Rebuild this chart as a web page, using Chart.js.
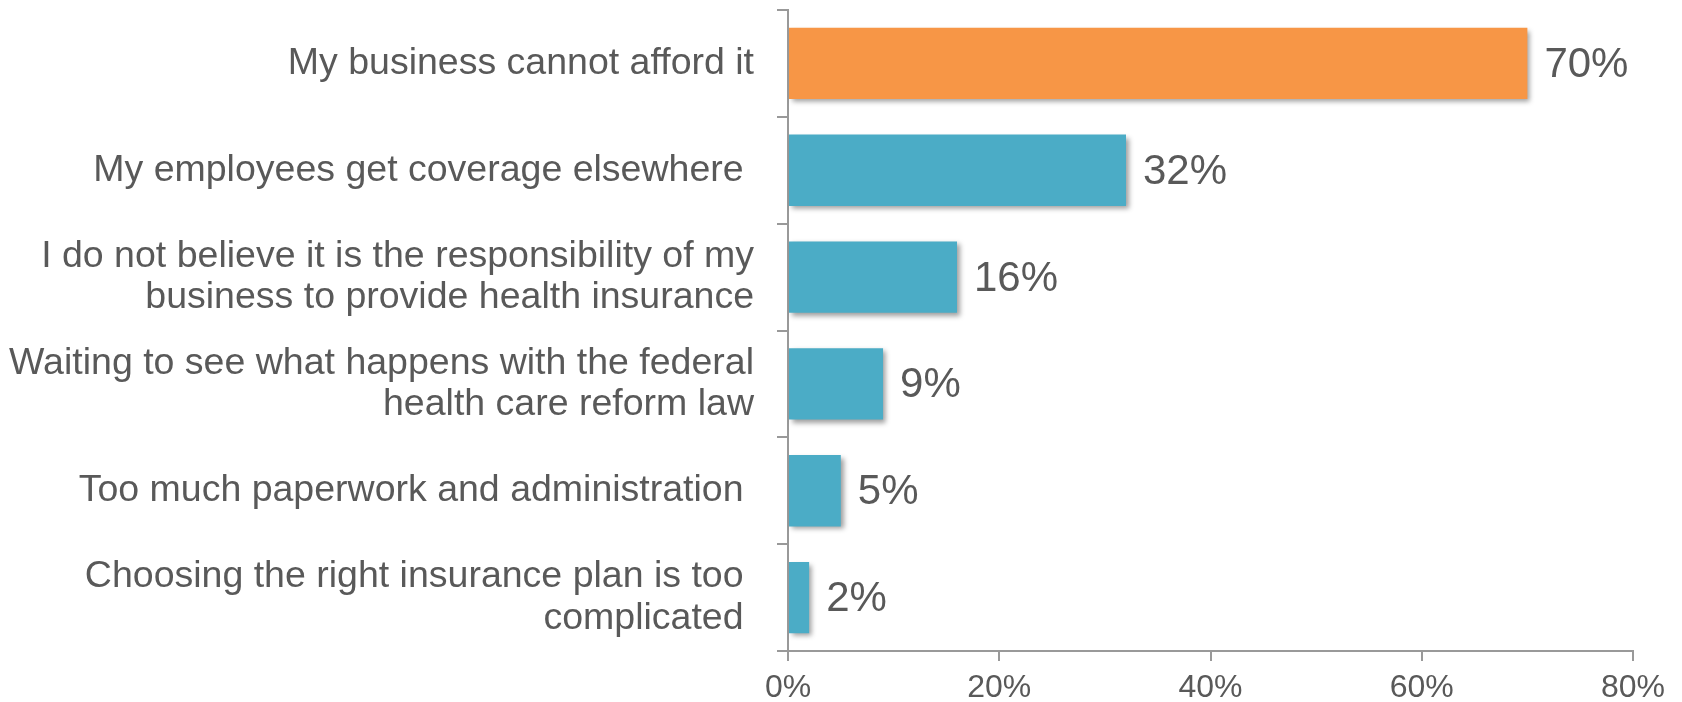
<!DOCTYPE html>
<html>
<head>
<meta charset="utf-8">
<script src="https://cdn.jsdelivr.net/npm/chart.js@4/dist/chart.umd.min.js"></script>
<style>
  html, body { margin: 0; padding: 0; background: #ffffff; }
  #wrap { width: 1682px; height: 702px; }
</style>
</head>
<body>
<div id="wrap"><canvas id="c" width="1682" height="702"></canvas></div>
<script>
const categories = [
  ["My business cannot afford it"],
  ["My employees get coverage elsewhere "],
  ["I do not believe it is the responsibility of my", "business to provide health insurance"],
  ["Waiting to see what happens with the federal", "health care reform law"],
  ["Too much paperwork and administration "],
  ["Choosing the right insurance plan is too ", "complicated "]
];
const values = [70, 32, 16, 9, 5, 2];
const xTicks = [0, 20, 40, 60, 80];

const ORANGE = '#F79646';
const BLUE = '#4BACC6';
const TEXT = '#595959';
const AXIS = '#999999';
const barColors = values.map((v, i) => i === 0 ? ORANGE : BLUE);

const shadowPlugin = {
  id: 'barShadow',
  beforeDatasetDraw(chart) {
    const ctx = chart.ctx;
    ctx.save();
    ctx.shadowColor = 'rgba(0,0,0,0.38)';
    ctx.shadowBlur = 5;
    ctx.shadowOffsetX = 3;
    ctx.shadowOffsetY = 3;
  },
  afterDatasetDraw(chart) {
    chart.ctx.restore();
  }
};

const labelPlugin = {
  id: 'valueLabels',
  afterDatasetsDraw(chart) {
    const ctx = chart.ctx;
    const meta = chart.getDatasetMeta(0);
    ctx.save();
    ctx.fillStyle = TEXT;
    ctx.font = '42px "Liberation Sans", Arial, sans-serif';
    ctx.textAlign = 'left';
    ctx.textBaseline = 'middle';
    meta.data.forEach((bar, i) => {
      const v = chart.data.datasets[0].data[i];
      ctx.fillText(v + '%', bar.x + 17, bar.y + 2);
    });
    ctx.restore();
  }
};

new Chart(document.getElementById('c'), {
  type: 'bar',
  data: {
    labels: categories,
    datasets: [{
      data: values,
      backgroundColor: barColors,
      borderWidth: 0,
      barPercentage: 0.668,
      categoryPercentage: 1
    }]
  },
  options: {
    indexAxis: 'y',
    responsive: false,
    animation: false,
    devicePixelRatio: 1,
    layout: { padding: { top: 10, right: 49, bottom: 0, left: 0 } },
    plugins: {
      legend: { display: false },
      tooltip: { enabled: false }
    },
    scales: {
      x: {
        type: 'linear',
        min: 0,
        max: 80,
        afterBuildTicks(scale) { scale.ticks = xTicks.map(v => ({ value: v })); },
        afterFit(scale) { scale.height = 51; },
        ticks: {
          color: TEXT,
          font: { family: '"Liberation Sans", Arial, sans-serif', size: 32 },
          padding: 8,
          maxRotation: 0,
          callback: v => v + '%'
        },
        grid: {
          drawOnChartArea: false,
          drawTicks: true,
          tickLength: 10,
          color: AXIS,
          lineWidth: 2
        },
        border: { color: AXIS, width: 2 }
      },
      y: {
        type: 'category',
        offset: true,
        afterFit(scale) {
          scale.width = 788;
          scale.paddingTop = 0;
          scale.paddingBottom = 0;
        },
        ticks: {
          color: TEXT,
          font: { family: '"Liberation Sans", Arial, sans-serif', size: 37.5, lineHeight: 1.1 },
          padding: 23,
          autoSkip: false
        },
        grid: {
          offset: true,
          drawOnChartArea: false,
          drawTicks: true,
          tickLength: 11,
          color: AXIS,
          lineWidth: 2
        },
        border: { color: AXIS, width: 2 }
      }
    }
  },
  plugins: [shadowPlugin, labelPlugin]
});
</script>
</body>
</html>
